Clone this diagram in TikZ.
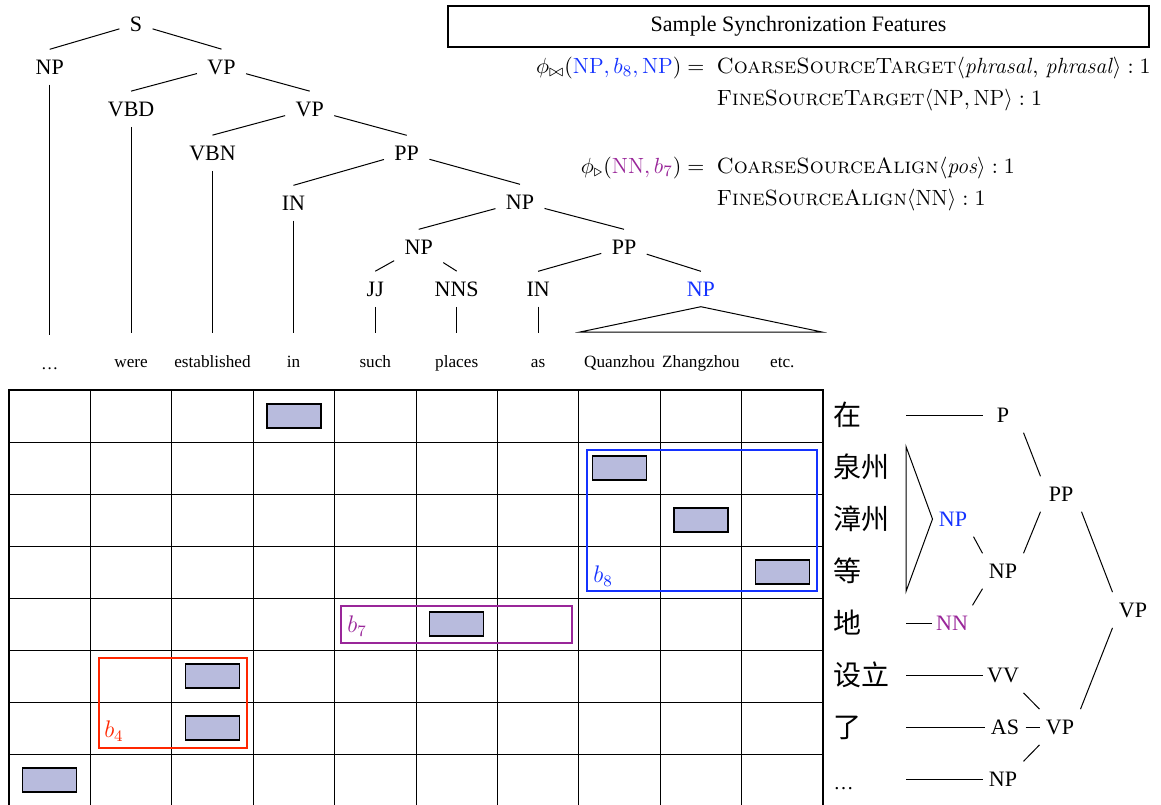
\documentclass[tikz,border=0pt]{standalone}
\usepackage{amsmath}
\usepackage{amssymb}
\usepackage{fontspec}
\newfontfamily\treefont{Liberation Serif}
\newfontfamily\zhfont{Noto Sans CJK SC}
\usepackage{tikz}
\usetikzlibrary{positioning,calc}
\definecolor{synblue}{RGB}{20,50,255}
\definecolor{synpurple}{RGB}{153,38,153}
\definecolor{synred}{RGB}{255,38,0}
\definecolor{alignfill}{RGB}{184,187,221}
\tikzset{lab/.style={font=\treefont\fontsize{11}{13}\selectfont,inner sep=5pt}}
\tikzset{word/.style={font=\treefont\fontsize{8.6}{10}\selectfont,anchor=base,text height=7pt,inner xsep=2pt,inner ysep=10pt}}
\tikzset{zh/.style={font=\zhfont\fontsize{14}{16}\selectfont,anchor=west,text width=34pt,align=left,text height=12pt,text depth=2pt,inner xsep=2pt,inner ysep=3pt}}
\tikzset{rlab/.style={font=\treefont\fontsize{11}{13}\selectfont,minimum width=20pt,inner xsep=2pt,inner ysep=5pt}}
\tikzset{algn/.style={draw,fill=alignfill,minimum width=27pt,minimum height=12pt,inner sep=0pt,line width=0.6pt}}
\tikzset{blk/.style={line width=1pt}}
\tikzset{blab/.style={font=\fontsize{12}{14}\selectfont,inner sep=0pt}}
\tikzset{feat/.style={font=\fontsize{11}{13}\selectfont,inner sep=0pt}}
\tikzset{cell/.style={line width=0.5pt}}
\tikzset{frame/.style={line width=1pt}}

\begin{document}
\begin{tikzpicture}[x=0.5pt,y=-0.5pt,line width=0.5pt]
	\useasboundingbox (0,0) rectangle (1161,804);

	%% English parse tree
	\node[lab] (s) at (136,24) {S};
	\node[lab] (np1) at (49.7,67) {NP};
	\node[lab] (vp1) at (221.5,67) {VP};
	\node[lab] (vbd) at (131.1,109) {VBD};
	\node[lab] (vp2) at (309.7,109) {VP};
	\node[lab] (vbn) at (212.5,153) {VBN};
	\node[lab] (pp1) at (406.7,153) {PP};
	\node[lab] (in1) at (293.5,203) {IN};
	\node[lab] (np2) at (520,202) {NP};
	\node[lab] (np3) at (418.7,247) {NP};
	\node[lab] (pp2) at (624,247) {PP};
	\node[lab] (jj) at (375.3,289) {JJ};
	\node[lab] (nns) at (456.7,289) {NNS};
	\node[lab] (in2) at (538.1,289) {IN};
	\node[lab,text=synblue] (np4) at (700.9,289) {NP};

	\node[word] (w0) at (49.7,369) {\ldots};
	\node[word] (w1) at (131.1,367) {were};
	\node[word] (w2) at (212.5,367) {established};
	\node[word] (w3) at (293.5,367) {in};
	\node[word] (w4) at (375.3,367) {such};
	\node[word] (w5) at (456.7,367) {places};
	\node[word] (w6) at (538.1,367) {as};
	\node[word] (w7) at (619.5,367) {Quanzhou};
	\node[word] (w8) at (700.9,367) {Zhangzhou};
	\node[word] (w9) at (782.3,367) {etc.};

	\draw (s) -- (np1.north);
	\draw (s) -- (vp1.north);
	\draw (vp1) -- (vbd.north);
	\draw (vp1) -- (vp2.north);
	\draw (vp2) -- (vbn.north);
	\draw (vp2) -- (pp1.north);
	\draw (pp1) -- (in1.north);
	\draw (pp1) -- (np2.north);
	\draw (np2) -- (np3.north);
	\draw (np2) -- (pp2.north);
	\draw (np3) -- (jj.north);
	\draw (np3) -- (nns.north);
	\draw (pp2) -- (in2.north);
	\draw (pp2) -- (np4.north);

	\draw (np1.south) -- (w0.north);
	\draw (vbd.south) -- (w1.north);
	\draw (vbn.south) -- (w2.north);
	\draw (in1.south) -- (w3.north);
	\draw (jj.south) -- (w4.north);
	\draw (nns.south) -- (w5.north);
	\draw (in2.south) -- (w6.north);
	\coordinate (tl) at (580,332);
	\coordinate (tr) at (822,332);
	\draw (np4.south) -- (tl) -- (tr) -- cycle;

	%% Features
	\node[draw,line width=0.6pt,minimum width=350.5pt,minimum height=20.5pt,font=\treefont\fontsize{11}{13}\selectfont] (title) at (798.5,26.5) {Sample Synchronization Features};
	\node[feat,anchor=base east] (lhs1) at (705,73) {$\phi_{\bowtie}(\textcolor{synblue}{\mathrm{NP}, b_8, \mathrm{NP}}) =$};
	\node[feat,anchor=base west] (rhs1) at (716,73) {\textsc{CoarseSourceTarget}$\langle$\textit{phrasal}$,$ \textit{phrasal}$\rangle : 1$};
	\node[feat,anchor=base west] (rhs2) at (716,105) {\textsc{FineSourceTarget}$\langle \mathrm{NP}, \mathrm{NP}\rangle : 1$};
	\node[feat,anchor=base east] (lhs3) at (705,173) {$\phi_{\triangleright}(\textcolor{synpurple}{\mathrm{NN}, b_7}) =$};
	\node[feat,anchor=base west] (rhs3) at (716,173) {\textsc{CoarseSourceAlign}$\langle$\textit{pos}$\rangle : 1$};
	\node[feat,anchor=base west] (rhs4) at (716,205) {\textsc{FineSourceAlign}$\langle \mathrm{NN}\rangle : 1$};

	%% Alignment grid
	\foreach \c in {1,...,9} \draw[cell] ({9+81.4*\c},390) -- ({9+81.4*\c},812);
	\foreach \r in {1,...,7} \draw[cell] (9,{390+52*\r}) -- (823,{390+52*\r});
	\draw[frame] (9,812) -- (9,390) -- (823,390) -- (823,812);

	\node[algn] (a0) at (293.9,416) {};
	\node[algn] (a1) at (619.5,468) {};
	\node[algn] (a2) at (700.9,520) {};
	\node[algn] (a3) at (782.3,572) {};
	\node[algn] (a4) at (456.7,624) {};
	\node[algn] (a5) at (212.5,676) {};
	\node[algn] (a6) at (212.5,728) {};
	\node[algn] (a7) at (49.7,780) {};

	% extracted blocks
	\draw[blk,synred] (98.7,657.7) rectangle (247.3,748.3);
	\node[blab,text=synred] (b4) at (114,731) {$b_4$};
	\draw[blk,synpurple] (341,606) rectangle (571.7,643.3);
	\node[blab,text=synpurple] (b7) at (357,626) {$b_7$};
	\draw[blk,synblue] (586.7,450) rectangle (816.7,591.3);
	\node[blab,text=synblue] (b8) at (603,576) {$b_8$};

	%% Chinese parse tree
	\node[zh] (zh0) at (829,415) {在};
	\node[zh] (zh1) at (829,467) {泉州};
	\node[zh] (zh2) at (829,519) {漳州};
	\node[zh] (zh3) at (829,571) {等};
	\node[zh] (zh4) at (829,623) {地};
	\node[zh] (zh5) at (829,675) {设立};
	\node[zh] (zh6) at (829,727) {了};
	\node[zh] (zh7) at (829,779) {{\treefont\fontsize{10}{12}\selectfont\ldots}};

	\node[rlab] (p) at (1003,415) {P};
	\node[rlab,text=synblue] (npr1) at (953,519) {NP};
	\node[rlab] (npr2) at (1003,571) {NP};
	\node[rlab,text=synpurple] (nn) at (952,623) {NN};
	\node[rlab] (ppr) at (1061,494) {PP};
	\node[rlab] (vpr1) at (1133,610) {VP};
	\node[rlab] (vv) at (1003,675) {VV};
	\node[rlab] (as) at (1005,727) {AS};
	\node[rlab] (vpr2) at (1060,727) {VP};
	\node[rlab] (npr3) at (1003,779) {NP};

	\draw (zh0.east) -- (p.west);
	\draw (zh4.east) -- (nn.west);
	\draw (zh5.east) -- (vv.west);
	\draw (zh6.east) -- (as.west);
	\draw (zh7.east) -- (npr3.west);
	\draw (zh1.north east) -- (npr1.west) -- (zh3.south east) -- cycle;
	\draw (p.south east) -- (ppr.north west);
	\draw (ppr.south west) -- (npr2.north east);
	\draw (npr1.south east) -- (npr2.north west);
	\draw (nn.north east) -- (npr2.south west);
	\draw (ppr.south east) -- (vpr1.north west);
	\draw (vpr1.south west) -- (vpr2.north east);
	\draw (vv.south east) -- (vpr2.north west);
	\draw (as.east) -- (vpr2.west);
	\draw (npr3.north east) -- (vpr2.south west);
\end{tikzpicture}
\end{document}
